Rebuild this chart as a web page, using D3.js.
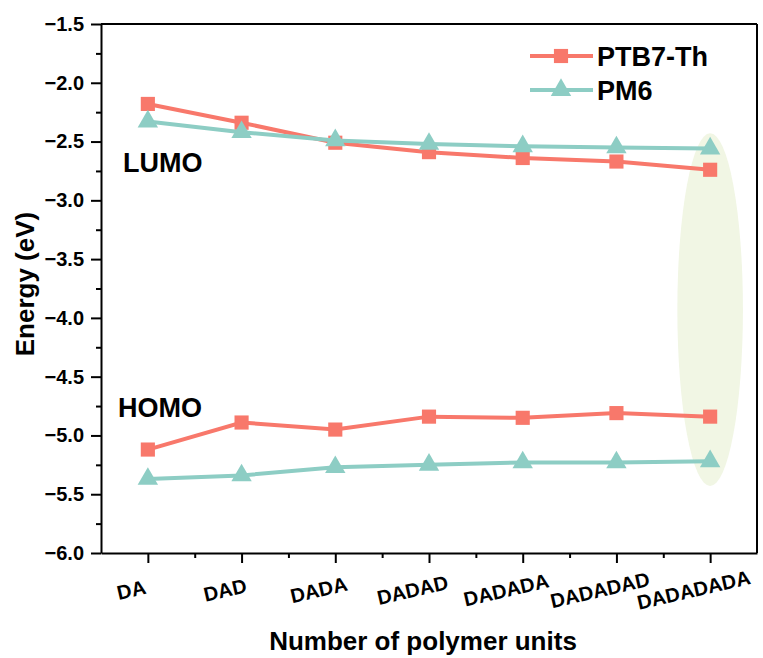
<!DOCTYPE html>
<html>
<head>
<meta charset="utf-8">
<script src="https://cdn.jsdelivr.net/npm/d3@7"></script>
<style>
  body { margin: 0; background: #fff; }
  svg text { font-family: Arial, "Liberation Sans", sans-serif; font-weight: bold; fill: #000; }
</style>
</head>
<body>
<svg width="763" height="658"></svg>
<script>
const categories = ['DA', 'DAD', 'DADA', 'DADAD', 'DADADA', 'DADADAD', 'DADADADA'];
const ptb7Lumo = [-2.18, -2.34, -2.51, -2.59, -2.64, -2.67, -2.74];
const pm6Lumo = [-2.33, -2.42, -2.49, -2.52, -2.54, -2.55, -2.56];
const ptb7Homo = [-5.12, -4.89, -4.95, -4.84, -4.85, -4.81, -4.84];
const pm6Homo = [-5.37, -5.34, -5.27, -5.25, -5.23, -5.23, -5.22];
const yTicks = [-6.0, -5.5, -5.0, -4.5, -4.0, -3.5, -3.0, -2.5, -2.0, -1.5];
const seriesNames = ['PTB7-Th', 'PM6'];

const svg = d3.select('svg');
const red = '#f8786b';
const teal = '#8dcdc4';

const margin = { left: 101, right: 6, top: 24, bottom: 105 };
const width = +svg.attr('width');
const height = +svg.attr('height');
const innerWidth = width - margin.left - margin.right;
const innerHeight = height - margin.top - margin.bottom;

const xScale = d3.scaleLinear().domain([0.5, categories.length + 0.5]).range([0, innerWidth]);
const yScale = d3.scaleLinear().domain([-6, -1.5]).range([innerHeight, 0]);

const g = svg.append('g').attr('transform', `translate(${margin.left}, ${margin.top})`);

// highlight ellipse around the last column
g.append('ellipse')
  .attr('cx', xScale(7))
  .attr('cy', (yScale(-2.43) + yScale(-5.43)) / 2)
  .attr('rx', xScale(7.35) - xScale(7))
  .attr('ry', (yScale(-5.43) - yScale(-2.43)) / 2)
  .attr('fill', '#f1f6e4');

// minor ticks
const minorY = d3.range(-5.75, -1.5, 0.5);
g.append('g').call(d3.axisLeft(yScale).tickValues(minorY).tickSize(5).tickFormat(''))
  .call(a => a.select('.domain').remove())
  .selectAll('line').attr('stroke-width', 2);
const minorX = d3.range(1.5, categories.length, 1);
g.append('g').attr('transform', `translate(0, ${innerHeight})`)
  .call(d3.axisBottom(xScale).tickValues(minorX).tickSize(5).tickFormat(''))
  .call(a => a.select('.domain').remove())
  .selectAll('line').attr('stroke-width', 2);

// y axis
const yAxisG = g.append('g')
  .call(d3.axisLeft(yScale).tickValues(yTicks).tickSize(10).tickSizeOuter(0).tickPadding(7).tickFormat(d3.format('.1f')));
yAxisG.select('.domain').attr('stroke-width', 2);
yAxisG.selectAll('line').attr('stroke-width', 2);
yAxisG.selectAll('text').style('font-size', '20px').attr('fill', '#000');

// x axis
const xAxisG = g.append('g').attr('transform', `translate(0, ${innerHeight})`)
  .call(d3.axisBottom(xScale).tickValues(d3.range(1, categories.length + 1)).tickSize(10).tickSizeOuter(0)
    .tickFormat(d => categories[d - 1]));
xAxisG.select('.domain').attr('stroke-width', 2);
xAxisG.selectAll('line').attr('stroke-width', 2);
xAxisG.selectAll('text')
  .style('font-size', '20px')
  .attr('fill', '#000')
  .attr('text-anchor', 'middle')
  .attr('y', 0).attr('dy', '0.35em')
  .attr('transform', 'translate(-17, 37) rotate(-13)');

// frame top and right
g.append('line').attr('x1', 0).attr('x2', innerWidth).attr('y1', 0).attr('y2', 0)
  .attr('stroke', '#000').attr('stroke-width', 2);
g.append('line').attr('x1', innerWidth).attr('x2', innerWidth).attr('y1', 0).attr('y2', innerHeight)
  .attr('stroke', '#000').attr('stroke-width', 2);

const line = d3.line().x((d, i) => xScale(i + 1)).y(d => yScale(d));
const square = d3.symbol().type(d3.symbolSquare).size(200);
const triangle = d3.symbol().type(d3.symbolTriangle).size(180);

const series = [
  { values: ptb7Lumo, color: red, sym: square },
  { values: ptb7Homo, color: red, sym: square },
  { values: pm6Lumo, color: teal, sym: triangle },
  { values: pm6Homo, color: teal, sym: triangle }
];

series.forEach(s => {
  g.append('path').datum(s.values)
    .attr('d', line).attr('fill', 'none').attr('stroke', s.color).attr('stroke-width', 4);
  g.selectAll(null).data(s.values).enter().append('path')
    .attr('d', s.sym)
    .attr('transform', (d, i) => `translate(${xScale(i + 1)}, ${yScale(d)})`)
    .attr('fill', s.color);
});

// annotations
g.append('text').attr('x', 22).attr('y', 148).style('font-size', '27px').text('LUMO');
g.append('text').attr('x', 17).attr('y', 393).style('font-size', '27px').text('HOMO');

// legend
const legend = svg.append('g').attr('transform', 'translate(530, 56)');
const legendItems = [
  { name: seriesNames[0], color: red, sym: square },
  { name: seriesNames[1], color: teal, sym: triangle }
];
legendItems.forEach((d, i) => {
  const row = legend.append('g').attr('transform', `translate(0, ${i * 34})`);
  row.append('line').attr('x1', 0).attr('x2', 63).attr('stroke', d.color).attr('stroke-width', 4);
  row.append('path').attr('d', d.sym).attr('transform', 'translate(31, 0)').attr('fill', d.color);
  row.append('text').attr('x', 67).attr('y', 10).style('font-size', '27px').text(d.name);
});

// axis titles
svg.append('text')
  .attr('x', margin.left + innerWidth / 2 - 6).attr('y', 650)
  .attr('text-anchor', 'middle').style('font-size', '26px')
  .text('Number of polymer units');
svg.append('text')
  .attr('transform', `translate(34, ${284}) rotate(-90)`)
  .attr('text-anchor', 'middle').style('font-size', '26px')
  .text('Energy (eV)');
</script>
</body>
</html>
